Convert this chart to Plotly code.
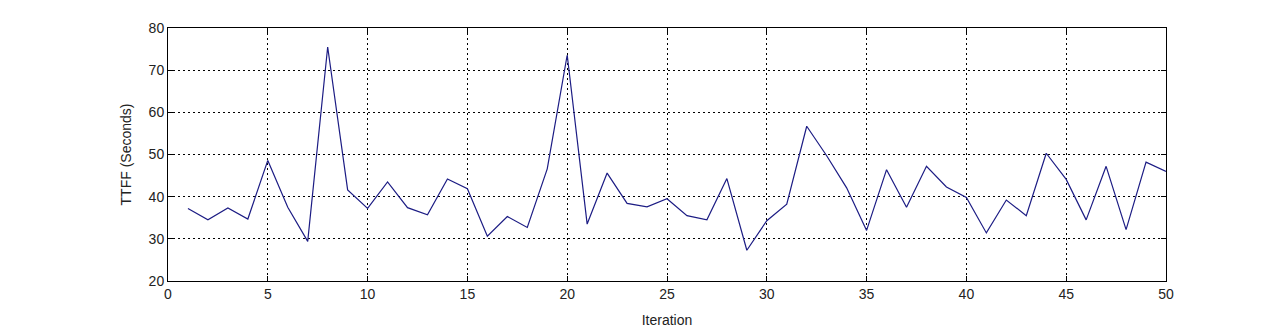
import plotly.graph_objects as go

iterations = list(range(1, 51))
ttff = [37.2, 34.5, 37.3, 34.7, 48.6, 37.5, 29.4, 75.5, 41.6, 37.2,
        43.5, 37.4, 35.7, 44.2, 41.9, 30.6, 35.3, 32.7, 46.6, 73.6,
        33.5, 45.6, 38.4, 37.6, 39.5, 35.5, 34.5, 44.3, 27.3, 34.3,
        38.2, 56.7, 49.7, 42.1, 32.0, 46.4, 37.5, 47.2, 42.3, 39.8,
        31.4, 39.2, 35.5, 50.3, 44.1, 34.5, 47.2, 32.2, 48.2, 46.0]
x_ticks = [0, 5, 10, 15, 20, 25, 30, 35, 40, 45, 50]
y_ticks = [20, 30, 40, 50, 60, 70, 80]

fig = go.Figure()
fig.add_trace(go.Scatter(x=iterations, y=ttff, mode="lines",
                         line=dict(color="#1c1c84", width=1.2),
                         showlegend=False))

axis_common = dict(showline=True, linecolor="black", linewidth=1, mirror="ticks",
                   ticks="inside", ticklen=5, tickcolor="black",
                   showgrid=True, gridcolor="black", gridwidth=1, griddash="2px,3px",
                   zeroline=False,
                   tickfont=dict(family="Liberation Sans, Arial", size=14, color="#222"))

fig.update_xaxes(range=[0, 50], tickvals=x_ticks,
                 title=dict(text="Iteration", standoff=14,
                            font=dict(family="Liberation Sans, Arial", size=14, color="#222")),
                 **axis_common)
fig.update_yaxes(range=[20, 80], tickvals=y_ticks,
                 title=dict(text="TTFF (Seconds)", standoff=13,
                            font=dict(family="Liberation Sans, Arial", size=14, color="#222")),
                 **axis_common)

fig.update_layout(width=1286, height=333,
                  margin=dict(l=160, r=128, t=17, b=60),
                  paper_bgcolor="white", plot_bgcolor="white")

fig.write_html("out.html")
